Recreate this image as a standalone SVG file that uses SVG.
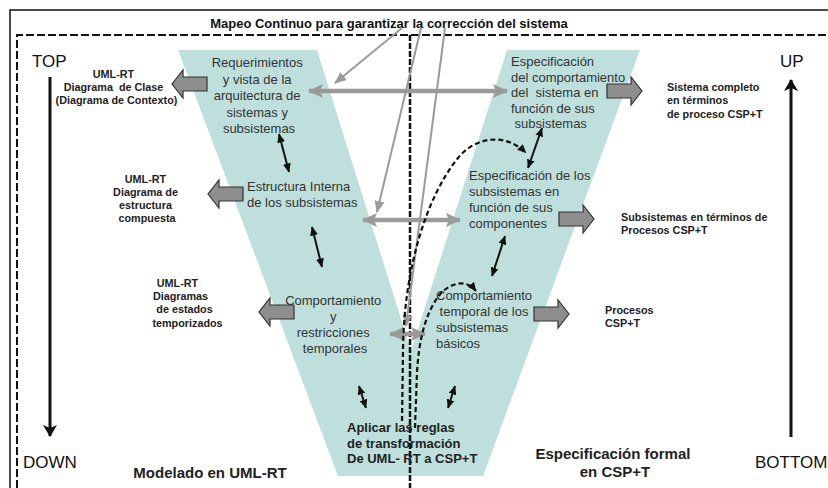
<svg xmlns="http://www.w3.org/2000/svg" width="828" height="488" viewBox="0 0 828 488">
  <style>
    .node { font-family: "Liberation Sans", Arial, sans-serif; font-size: 13px; fill: #333; }
    .side { font-family: "Liberation Sans", Arial, sans-serif; font-size: 10.8px; font-weight: bold; fill: #222; }
    .big { font-family: "Liberation Sans", Arial, sans-serif; font-size: 17px; fill: #111; }
    .bold14 { font-family: "Liberation Sans", Arial, sans-serif; font-size: 15px; font-weight: bold; fill: #222; }
    .bold12 { font-family: "Liberation Sans", Arial, sans-serif; font-size: 13px; font-weight: bold; fill: #222; }
    .title { font-family: "Liberation Sans", Arial, sans-serif; font-size: 13px; font-weight: bold; fill: #111; }
    .frame { fill: none; stroke: #111; stroke-width: 1.5; }
    .dframe { fill: none; stroke: #111; stroke-width: 2; stroke-dasharray: 8 3; }
    .divider { fill: none; stroke: #111; stroke-width: 2.5; stroke-dasharray: 6 2; }
    .blk { fill: #8e8e8e; stroke: #333; stroke-width: 1.2; }
    .thin { fill: none; stroke: #9a9a9a; stroke-width: 2; marker-end: url(#gh); }
    .thick { fill: none; stroke: #9a9a9a; stroke-width: 4.5; marker-start: url(#gt); marker-end: url(#gt); }
    .dbl { fill: none; stroke: #111; stroke-width: 2; marker-start: url(#bh); marker-end: url(#bh); }
    .curve { fill: none; stroke: #111; stroke-width: 2.2; stroke-dasharray: 5 3; marker-end: url(#bh); }
    .axis { fill: none; stroke: #111; stroke-width: 3; }
  </style>
  <defs>
    <!-- block arrow pointing right, origin at tail centre -->
    <path id="blockArrow" class="blk" d="M0,-7 H24 V-14 L35,0 L24,14 V7 H0 Z"/>
    <marker id="gh" markerUnits="userSpaceOnUse" markerWidth="12" markerHeight="12" viewBox="0 0 12 12" refX="11" refY="6" orient="auto-start-reverse">
      <path d="M0,1 L12,6 L0,11 Z" fill="#9a9a9a"/>
    </marker>
    <marker id="gt" markerUnits="userSpaceOnUse" markerWidth="15" markerHeight="14" viewBox="0 0 15 14" refX="14" refY="7" orient="auto-start-reverse">
      <path d="M0,0 L15,7 L0,14 L3,7 Z" fill="#9a9a9a"/>
    </marker>
    <marker id="bh" markerUnits="userSpaceOnUse" markerWidth="9" markerHeight="8" viewBox="0 0 9 8" refX="8.5" refY="4" orient="auto-start-reverse">
      <path d="M0,0 L9,4 L0,8 Z" fill="#111"/>
    </marker>
    <marker id="ax" markerUnits="userSpaceOnUse" markerWidth="12" markerHeight="14" viewBox="0 0 12 14" refX="11" refY="7" orient="auto-start-reverse">
      <path d="M0,0 L12,7 L0,14 L3,7 Z" fill="#111"/>
    </marker>
  </defs>

  <rect width="828" height="488" fill="#fff"/>

  <!-- frames -->
  <g id="frames">
    <path class="frame" d="M10,488 V10 H828"/>
    <path class="dframe" d="M17,488 V35 H828"/>
  </g>

  <!-- V shaped background -->
  <polygon id="v-shape" points="178,50 317,50 411,351 507,50 640,50 483,476 338,476" fill="#bfdfdd"/>

  <!-- vertical divider -->
  <line class="divider" x1="410" y1="35" x2="410" y2="488"/>

  <text class="title" x="389" y="28" text-anchor="middle">Mapeo Continuo para garantizar la corrección del sistema</text>

  <!-- direction axes -->
  <g id="axis-left">
    <text class="big" x="32" y="67">TOP</text>
    <line class="axis" x1="50" y1="77" x2="50" y2="436" marker-end="url(#ax)"/>
    <text class="big" x="23" y="468">DOWN</text>
  </g>
  <g id="axis-right">
    <text class="big" x="780" y="67">UP</text>
    <line class="axis" x1="791" y1="437" x2="791" y2="80" marker-end="url(#ax)"/>
    <text class="big" x="755" y="468">BOTTOM</text>
  </g>

  <!-- left column nodes -->
  <g id="n-requerimientos">
    <text class="node" text-anchor="middle">
      <tspan x="259" y="67">Requerimientos</tspan>
      <tspan x="259" y="84">y vista de la</tspan>
      <tspan x="259" y="100">arquitectura de</tspan>
      <tspan x="259" y="117">sistemas y</tspan>
      <tspan x="259" y="133">subsistemas</tspan>
    </text>
  </g>
  <g id="n-estructura">
    <text class="node">
      <tspan x="247" y="191">Estructura Interna</tspan>
      <tspan x="247" y="207">de los subsistemas</tspan>
    </text>
  </g>
  <g id="n-comportamiento">
    <text class="node" text-anchor="middle">
      <tspan x="335" y="305">Comportamiento</tspan>
      <tspan x="335" y="321">y</tspan>
      <tspan x="335" y="337">restricciones</tspan>
      <tspan x="335" y="353">temporales</tspan>
    </text>
  </g>

  <!-- right column nodes -->
  <g id="n-espec-sistema">
    <text class="node" xml:space="preserve">
      <tspan x="511" y="66">Especificación</tspan>
      <tspan x="511" y="82">del comportamiento</tspan>
      <tspan x="511" y="97">del  sistema en</tspan>
      <tspan x="511" y="113">función de sus</tspan>
      <tspan x="511" y="128"> subsistemas</tspan>
    </text>
  </g>
  <g id="n-espec-subsistemas">
    <text class="node">
      <tspan x="469" y="180">Especificación de los</tspan>
      <tspan x="469" y="196">subsistemas en</tspan>
      <tspan x="469" y="212">función de sus</tspan>
      <tspan x="469" y="228">componentes</tspan>
    </text>
  </g>
  <g id="n-comportamiento-temporal">
    <text class="node" xml:space="preserve">
      <tspan x="436" y="300">Comportamiento</tspan>
      <tspan x="436" y="316"> temporal de los</tspan>
      <tspan x="436" y="332">subsistemas</tspan>
      <tspan x="436" y="348">básicos</tspan>
    </text>
  </g>

  <!-- bottom of the V -->
  <g id="n-reglas">
    <text class="bold12">
      <tspan x="347" y="432">Aplicar las reglas</tspan>
      <tspan x="347" y="448">de transformación</tspan>
      <tspan x="347" y="463">De UML- RT a CSP+T</tspan>
    </text>
  </g>

  <!-- side labels -->
  <g id="l-clase">
    <text class="side" text-anchor="middle" xml:space="preserve">
      <tspan x="124" y="78">UML-RT</tspan>
      <tspan x="124" y="91">Diagrama  de Clase</tspan>
      <tspan x="124" y="104">(Diagrama de Contexto)</tspan>
    </text>
  </g>
  <g id="l-estructura">
    <text class="side" text-anchor="middle">
      <tspan x="147" y="183">UML-RT</tspan>
      <tspan x="147" y="196">Diagrama de</tspan>
      <tspan x="147" y="209">estructura</tspan>
      <tspan x="147" y="222">compuesta</tspan>
    </text>
  </g>
  <g id="l-estados">
    <text class="side" text-anchor="middle" xml:space="preserve">
      <tspan x="188" y="287">UML-RT</tspan>
      <tspan x="191" y="300">Diagramas</tspan>
      <tspan x="195" y="313">de estados</tspan>
      <tspan x="195" y="327">temporizados</tspan>
    </text>
  </g>
  <g id="l-sistema-csp">
    <text class="side">
      <tspan x="667" y="91">Sistema completo</tspan>
      <tspan x="667" y="104">en términos</tspan>
      <tspan x="667" y="118">de proceso CSP+T</tspan>
    </text>
  </g>
  <g id="l-subsistemas-csp">
    <text class="side">
      <tspan x="621" y="221">Subsistemas en términos de</tspan>
      <tspan x="621" y="234">Procesos CSP+T</tspan>
    </text>
  </g>
  <g id="l-procesos-csp">
    <text class="side">
      <tspan x="605" y="314">Procesos</tspan>
      <tspan x="605" y="327">CSP+T</tspan>
    </text>
  </g>

  <text class="bold14" x="210" y="478" text-anchor="middle">Modelado en UML-RT</text>
  <text class="bold14" text-anchor="middle">
    <tspan x="615" y="459">Especificación formal</tspan>
    <tspan x="615" y="477">en CSP+T</tspan>
  </text>

  <!-- connectors -->
  <g id="connectors">
    <!-- block arrows to the artefacts -->
    <use href="#blockArrow" transform="translate(207,84) scale(-1,1)"/>
    <use href="#blockArrow" transform="translate(243,194) scale(-1,1)"/>
    <use href="#blockArrow" transform="translate(294,312) scale(-1,1)"/>
    <use href="#blockArrow" transform="translate(607,91)"/>
    <use href="#blockArrow" transform="translate(559,219)"/>
    <use href="#blockArrow" transform="translate(534,314)"/>

    <!-- continuous mapping -->
    <line class="thin" x1="402" y1="28" x2="335" y2="83"/>
    <line class="thin" x1="421" y1="28" x2="377" y2="212"/>
    <line class="thin" x1="445" y1="28" x2="406" y2="326"/>
    <line class="thick" x1="309" y1="91" x2="507" y2="91"/>
    <line class="thick" x1="363" y1="220" x2="460" y2="220"/>
    <line class="thick" x1="390" y1="334" x2="425" y2="334"/>

    <!-- refinement steps -->
    <line class="dbl" x1="279" y1="134" x2="289" y2="172"/>
    <line class="dbl" x1="312" y1="227" x2="322" y2="267"/>
    <line class="dbl" x1="359" y1="386" x2="366" y2="408"/>
    <line class="dbl" x1="542" y1="128" x2="528" y2="168"/>
    <line class="dbl" x1="505" y1="236" x2="492" y2="276"/>
    <line class="dbl" x1="455" y1="386" x2="448" y2="408"/>

    <!-- transformation paths -->
    <path class="curve" d="M402,421 L403,350 C404,265 428,195 458,158 C475,137 505,132 526,153"/>
    <path class="curve" d="M415,428 L417,372 C419,340 425,315 438,297 C448,283 466,278 476,291"/>
  </g>
</svg>
